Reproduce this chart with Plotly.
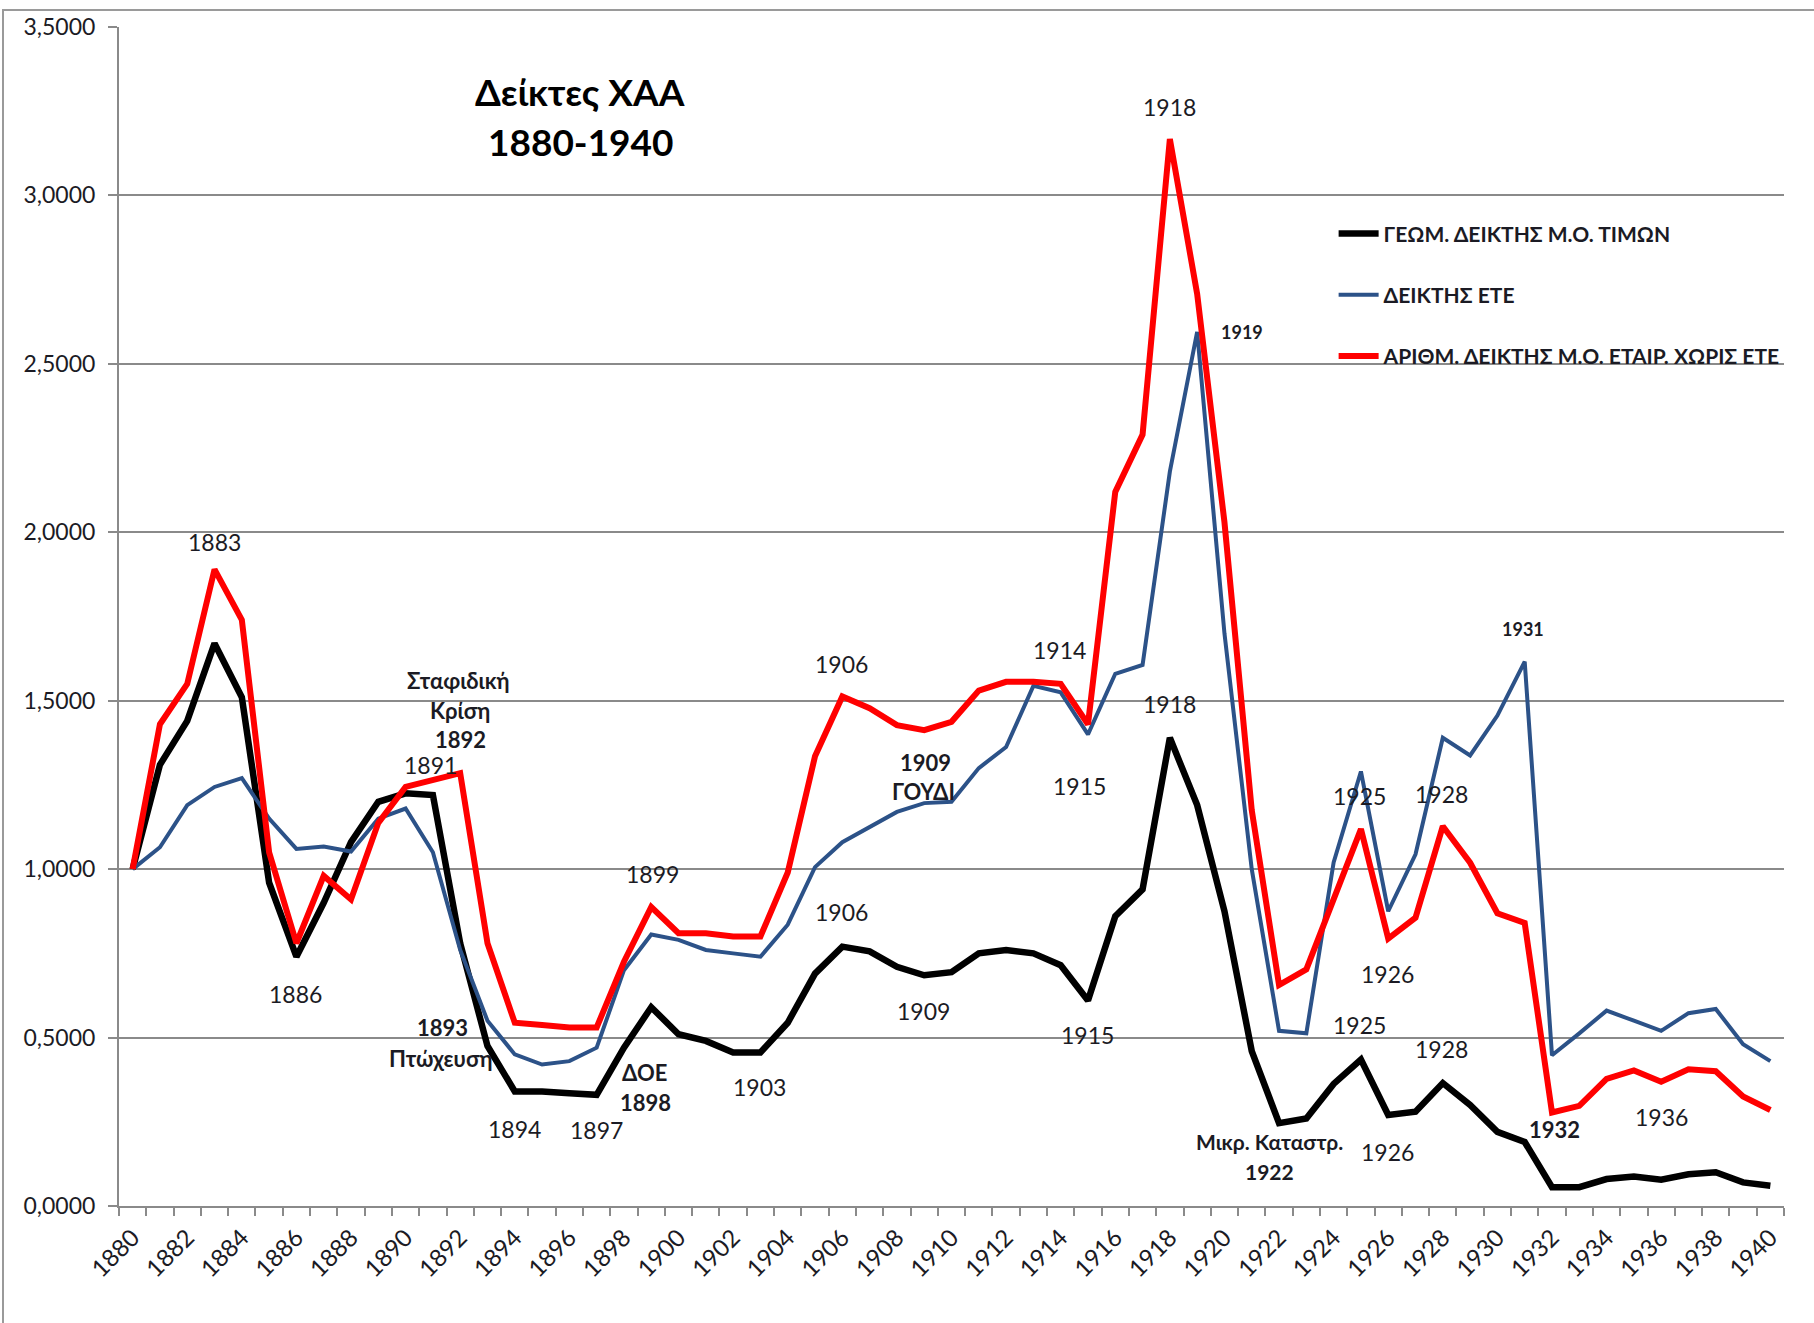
import plotly.graph_objects as go

years = list(range(1880, 1941))

geom_prices = [
    1.00, 1.31, 1.44, 1.67, 1.51, 0.96, 0.74, 0.90, 1.08, 1.20,
    1.225, 1.22, 0.78, 0.475, 0.34, 0.34, 0.335, 0.33, 0.47, 0.59,
    0.51, 0.49, 0.456, 0.456, 0.544, 0.69, 0.77, 0.756, 0.71, 0.685,
    0.694, 0.75, 0.76, 0.75, 0.715, 0.61, 0.86, 0.94, 1.39, 1.19,
    0.875, 0.46, 0.246, 0.26, 0.3625, 0.435, 0.27, 0.28, 0.365, 0.30,
    0.22, 0.19, 0.056, 0.056, 0.08, 0.0875, 0.078, 0.094, 0.10, 0.07,
    0.06,
]

ete_index = [
    1.00, 1.065, 1.19, 1.244, 1.27, 1.15, 1.06, 1.0675, 1.0525, 1.15,
    1.18, 1.05, 0.76, 0.55, 0.45, 0.42, 0.43, 0.47, 0.70, 0.806,
    0.79, 0.76, 0.75, 0.74, 0.835, 1.006, 1.08, 1.125, 1.17, 1.196,
    1.20, 1.30, 1.3625, 1.544, 1.525, 1.40, 1.58, 1.606, 2.18, 2.595,
    1.70, 1.00, 0.52, 0.5125, 1.02, 1.29, 0.875, 1.044, 1.39, 1.3375,
    1.456, 1.616, 0.4475, 0.5125, 0.58, 0.55, 0.52, 0.5725, 0.585, 0.48,
    0.43,
]

arith_no_ete = [
    1.00, 1.43, 1.55, 1.89, 1.74, 1.05, 0.78, 0.98, 0.91, 1.1375,
    1.244, 1.265, 1.285, 0.78, 0.544, 0.5375, 0.53, 0.53, 0.725, 0.8875,
    0.81, 0.81, 0.80, 0.80, 0.99, 1.335, 1.5125, 1.4775, 1.4275, 1.4125,
    1.4375, 1.53, 1.556, 1.556, 1.55, 1.43, 2.12, 2.29, 3.1675, 2.7075,
    2.03, 1.175, 0.656, 0.7025, 0.906, 1.119, 0.794, 0.856, 1.1275, 1.019,
    0.869, 0.84, 0.2775, 0.2975, 0.3775, 0.4025, 0.369, 0.406, 0.40, 0.325,
    0.285,
]

series_names = [
    "ΓΕΩΜ. ΔΕΙΚΤΗΣ Μ.Ο. ΤΙΜΩΝ",
    "ΔΕΙΚΤΗΣ ΕΤΕ",
    "ΑΡΙΘΜ. ΔΕΙΚΤΗΣ Μ.Ο. ΕΤΑΙΡ. ΧΩΡΙΣ ΕΤΕ",
]

y_tick_values = [0, 0.5, 1.0, 1.5, 2.0, 2.5, 3.0, 3.5]
y_tick_labels = ["0,0000", "0,5000", "1,0000", "1,5000", "2,0000", "2,5000", "3,0000", "3,5000"]
x_tick_values = list(range(1880, 1941, 2))
x_tick_labels = [str(v) for v in x_tick_values]

FONT = "Lato, 'Open Sans', sans-serif"
GRID = "#8a8a8a"
TXT = "#1b1b24"

fig = go.Figure()
fig.add_trace(go.Scatter(x=years, y=geom_prices, mode="lines", name=f"<b>{series_names[0]}</b>",
                         line=dict(color="#000000", width=6.5), legendgroup="a"))
fig.add_trace(go.Scatter(x=years, y=ete_index, mode="lines", name=f"<b>{series_names[1]}</b>",
                         line=dict(color="#2C5288", width=4), legendgroup="b"))
fig.add_trace(go.Scatter(x=years, y=arith_no_ete, mode="lines", name=f"<b>{series_names[2]}</b>",
                         line=dict(color="#FF0000", width=6), legendgroup="c"))

# annotations: (text, x, y, bold, size)
notes = [
    ("1883", 1883.0, 1.97, False, 23),
    ("Σταφιδική", 1891.95, 1.56, True, 22),
    ("Κρίση", 1892.0, 1.47, True, 22),
    ("1892", 1892.0, 1.385, True, 22),
    ("1891", 1890.93, 1.31, False, 23),
    ("1886", 1885.97, 0.63, False, 23),
    ("1893", 1891.36, 0.53, True, 22),
    ("Πτώχευση", 1891.27, 0.438, True, 22),
    ("1894", 1893.98, 0.229, False, 23),
    ("1897", 1896.99, 0.226, False, 23),
    ("1899", 1899.03, 0.986, False, 23),
    ("ΔΟΕ", 1898.77, 0.397, True, 22),
    ("1898", 1898.8, 0.308, True, 22),
    ("1903", 1902.97, 0.353, False, 23),
    ("1906", 1905.97, 1.61, False, 23),
    ("1906", 1905.97, 0.873, False, 23),
    ("1909", 1909.03, 1.318, True, 22),
    ("ΓΟΥΔΙ", 1908.98, 1.23, True, 22),
    ("1909", 1908.98, 0.579, False, 23),
    ("1914", 1913.94, 1.65, False, 23),
    ("1915", 1914.7, 1.247, False, 23),
    ("1915", 1915.0, 0.507, False, 23),
    ("1918", 1918.0, 3.264, False, 23),
    ("1918", 1918.0, 1.49, False, 23),
    ("1919", 1920.64, 2.596, True, 18),
    ("1931", 1930.93, 1.712, True, 18),
    ("1925", 1924.96, 1.216, False, 23),
    ("1928", 1927.97, 1.223, False, 23),
    ("1926", 1925.97, 0.688, False, 23),
    ("1925", 1924.96, 0.538, False, 23),
    ("1928", 1927.97, 0.466, False, 23),
    ("Μικρ. Καταστρ.", 1921.65, 0.192, True, 21),
    ("1922", 1921.65, 0.103, True, 21),
    ("1926", 1925.97, 0.161, False, 23),
    ("1932", 1932.08, 0.226, True, 22),
    ("1936", 1936.0, 0.264, False, 23),
    ("1932", 1931.95, -0.051, False, 23),
]

annotations = []
for text, x, y, bold, size in notes:
    annotations.append(dict(
        x=x, y=y, xref="x", yref="y", text=(f"<b>{text}</b>" if bold else text),
        showarrow=False, xanchor="center", yanchor="middle",
        font=dict(family=FONT, size=size, color=TXT),
    ))

annotations.append(dict(x=1896.4, y=3.31, xref="x", yref="y", text="<b>Δείκτες ΧΑΑ</b>",
                        showarrow=False, xanchor="center", yanchor="middle",
                        font=dict(family=FONT, size=37, color="#000000")))
annotations.append(dict(x=1896.4, y=3.16, xref="x", yref="y", text="<b>1880-1940</b>",
                        showarrow=False, xanchor="center", yanchor="middle",
                        font=dict(family=FONT, size=37, color="#000000")))

fig.update_layout(
    width=1814, height=1323,
    margin=dict(l=119, r=30, t=24, b=117),
    paper_bgcolor="white", plot_bgcolor="white",
    font=dict(family=FONT, size=22, color=TXT),
    showlegend=True,
    legend=dict(
        x=0.7295, y=0.842, xanchor="left", yanchor="top",
        bgcolor="rgba(0,0,0,0)", tracegroupgap=31,
        font=dict(family=FONT, size=21, color=TXT),
        traceorder="grouped", itemwidth=40,
    ),
    annotations=annotations,
    shapes=[dict(type="rect", xref="paper", yref="paper",
                 x0=(3 - 119) / 1665, x1=(1830 - 119) / 1665,
                 y0=-(1340 - 1206) / 1182, y1=1 + (24 - 7) / 1182,
                 line=dict(color="#9a9a9a", width=2), layer="below")],
)

fig.update_xaxes(
    range=[1879.5, 1940.5],
    tickmode="array", tickvals=x_tick_values, ticktext=x_tick_labels,
    tickangle=-45, ticks="", showgrid=False, zeroline=False,
    showline=True, linecolor=GRID, linewidth=2,
    tickfont=dict(family=FONT, size=24, color=TXT),
    ticklabelstandoff=6,
    minor=dict(ticks="outside", tick0=1879.5, dtick=1, ticklen=8,
               tickcolor=GRID, tickwidth=2, showgrid=False),
)
fig.update_yaxes(
    range=[0, 3.5],
    tickmode="array", tickvals=y_tick_values, ticktext=y_tick_labels,
    ticks="outside", ticklen=9, tickcolor=GRID, tickwidth=2,
    showgrid=True, gridcolor=GRID, gridwidth=2, zeroline=False,
    showline=True, linecolor=GRID, linewidth=2,
    tickfont=dict(family=FONT, size=23, color=TXT),
    ticklabelstandoff=8,
)

fig.write_html(
    "out.html",
    config={"displayModeBar": False},
    post_script="document.body.style.margin='0px';document.body.style.overflow='hidden';",
)
